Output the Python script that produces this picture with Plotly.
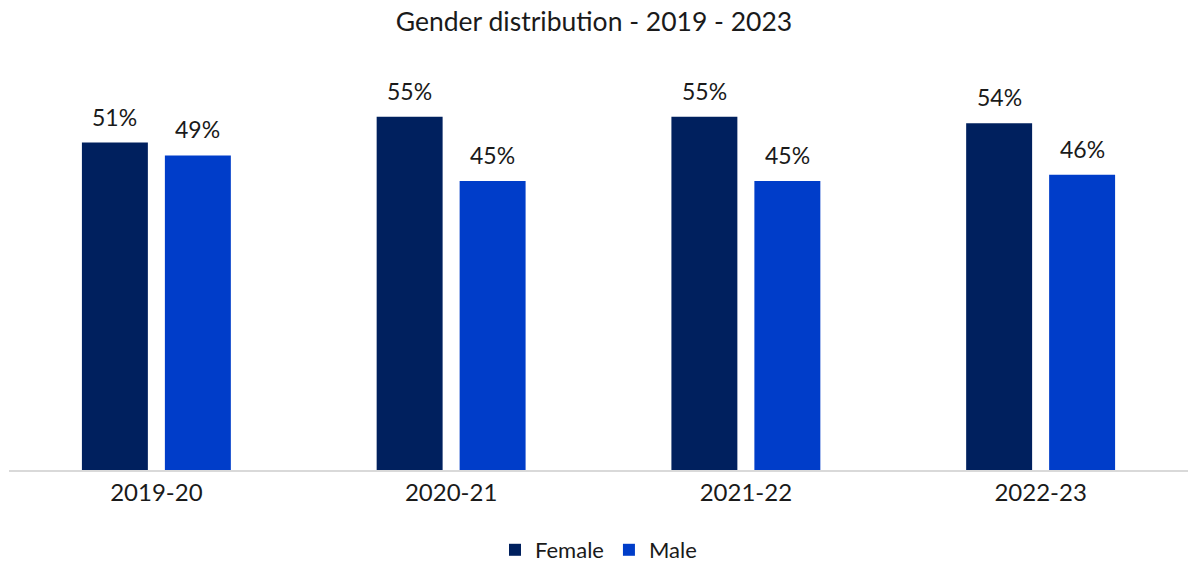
import plotly.graph_objects as go

years = ["2019-20", "2020-21", "2021-22", "2022-23"]
female = [51, 55, 55, 54]
male = [49, 45, 45, 46]

FEMALE_COLOR = "#00205E"
MALE_COLOR = "#003DC9"
FONT = "Lato, 'Open Sans', sans-serif"
TEXT = "#1a1a1a"

fig = go.Figure()
fig.add_trace(go.Bar(name="Female", x=years, y=female, marker_color=FEMALE_COLOR,
                     marker_line_width=0))
fig.add_trace(go.Bar(name="Male", x=years, y=male, marker_color=MALE_COLOR,
                     marker_line_width=0))

# value labels above each bar, offset to sit over its half of the group
for vals, shift in ((female, -41.5), (male, 41.5)):
    for yr, v in zip(years, vals):
        fig.add_annotation(x=yr, y=v, text=f"{v}%", showarrow=False,
                           xshift=shift, yshift=10, yanchor="bottom",
                           font=dict(family=FONT, size=23, color=TEXT))

fig.update_layout(
    width=1188, height=567,
    paper_bgcolor="white", plot_bgcolor="white",
    margin=dict(l=9, r=0, t=61, b=97, autoexpand=False),
    barmode="group", bargap=0.437, bargroupgap=0.205,
    title=dict(text="Gender distribution - 2019 - 2023", x=0.5, xanchor="center",
               y=0.961, yanchor="middle",
               font=dict(family=FONT, size=26.5, color=TEXT)),
    font=dict(family=FONT, size=23, color=TEXT),
    xaxis=dict(showline=True, linecolor="#d9d9d9", linewidth=2, ticks="",
               tickfont=dict(family=FONT, size=24, color=TEXT)),
    yaxis=dict(range=[0, 63.7], visible=False, showgrid=False, zeroline=False),
    legend=dict(orientation="h", x=0.5, xanchor="center",
                yref="container", y=0.03, yanchor="middle",
                font=dict(family=FONT, size=22, color=TEXT),
                itemwidth=30, traceorder="normal"),
    showlegend=True,
)

fig.write_html("out.html")
